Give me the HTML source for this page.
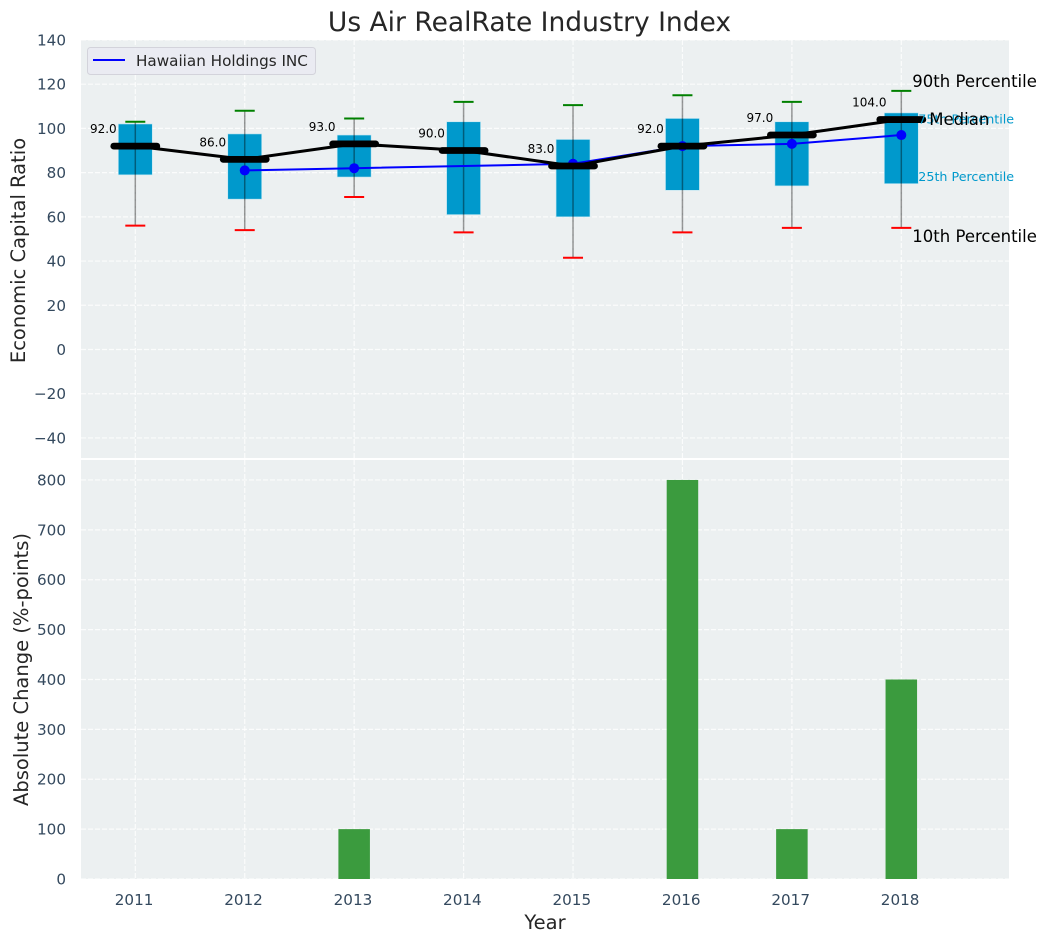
<!DOCTYPE html>
<html lang="en">
<head>
<meta charset="utf-8">
<title>Us Air RealRate Industry Index</title>
<style>
html,body{margin:0;padding:0;background:#fff;width:1047px;height:942px;overflow:hidden}
svg{display:block}
text{font-family:"DejaVu Sans","Liberation Sans",sans-serif}
</style>
</head>
<body>
<svg id="chart" width="1047" height="942" viewBox="0 0 1047 942" xmlns="http://www.w3.org/2000/svg">
  <rect x="81" y="40" width="928" height="418" fill="#ecf0f1"/>
  <rect x="81" y="460" width="928" height="419" fill="#ecf0f1"/>
  <g id="grid"></g>
  <g id="boxes"></g>
  <g id="series"></g>
  <g id="medians"></g>
  <g id="bars"></g>
  <g id="labels"></g>
  <g id="ticks"></g>
  <text x="529.5" y="31" text-anchor="middle" font-size="26.5" fill="#262626">Us Air RealRate Industry Index</text>
  <text transform="translate(24.8 250.5) rotate(-90)" text-anchor="middle" font-size="19.5" fill="#262626">Economic Capital Ratio</text>
  <text transform="translate(27.8 669.5) rotate(-90)" text-anchor="middle" font-size="19.5" fill="#262626">Absolute Change (%-points)</text>
  <text x="545" y="929" text-anchor="middle" font-size="19.5" fill="#262626">Year</text>
  <g>
    <rect x="87.5" y="47.5" width="228" height="27" rx="3" fill="#eaeaf2" fill-opacity="0.9" stroke="#d3d3db" stroke-width="1"/>
    <line x1="93" x2="125" y1="60" y2="60" stroke="#0000ff" stroke-width="2"/>
    <text x="136" y="66" font-size="15.2" fill="#262626">Hawaiian Holdings INC</text>
  </g>
</svg>
<script>
const years = [2011, 2012, 2013, 2014, 2015, 2016, 2017, 2018];
const p90 = [103, 108, 104.5, 112, 110.5, 115, 112, 117];
const p75 = [102, 97.5, 97, 103, 95, 104.5, 103, 107];
const p50 = [92, 86, 93, 90, 83, 92, 97, 104];
const p25 = [79, 68, 78, 61, 60, 72, 74, 75];
const p10 = [56, 54, 69, 53, 41.5, 53, 55, 55];
const company = [null, 81, 82, null, 84, 92, 93, 97];
const changes = [0, 0, 100, 0, 0, 800, 100, 400];
const topTicks = [-40, -20, 0, 20, 40, 60, 80, 100, 120, 140];
const bottomTicks = [0, 100, 200, 300, 400, 500, 600, 700, 800];

const NS = 'http://www.w3.org/2000/svg';
const xScale = v => 135.3 + (v - 2011) * 109.43;
const yTop = v => 349.5 - v * 2.211;
const yBottom = v => 879 - v * 0.4988;
const bandPx = 109.43;

function make(tag, parent, attrs, content) {
  const el = document.createElementNS(NS, tag);
  for (const k in attrs) el.setAttribute(k, attrs[k]);
  if (content !== undefined) el.textContent = content;
  document.getElementById(parent).appendChild(el);
  return el;
}
const fmtTick = v => (v < 0 ? '\u2212' + Math.abs(v) : String(v));
const gridStyle = {stroke: '#ffffff', 'stroke-width': 1.2, 'stroke-dasharray': '5 2', 'stroke-opacity': 0.8};

topTicks.forEach(t => {
  const y = yTop(t);
  const line = make('line', 'grid', Object.assign({x1: 81, x2: 1009, y1: y, y2: y}, gridStyle));
  
  
  const label = make('text', 'ticks', {x: 66, y: y + 5.5, 'text-anchor': 'end', 'font-size': 15.2, fill: '#34495e'}, fmtTick(t));
  
  
});
bottomTicks.forEach(t => {
  const y = yBottom(t);
  const line = make('line', 'grid', Object.assign({x1: 81, x2: 1009, y1: y, y2: y}, gridStyle));
  
  
  const label = make('text', 'ticks', {x: 66, y: y + 5.5, 'text-anchor': 'end', 'font-size': 15.2, fill: '#34495e'}, fmtTick(t));
  
  
});
years.forEach(yr => {
  const x = xScale(yr);
  const topLine = make('line', 'grid', Object.assign({x1: x, x2: x, y1: 40, y2: 458}, gridStyle));
  
  
  const bottomLine = make('line', 'grid', Object.assign({x1: x, x2: x, y1: 460, y2: 879}, gridStyle));
  
  
  const label = make('text', 'ticks', {x: x - 1.2, y: 905, 'text-anchor': 'middle', 'font-size': 15.2, fill: '#34495e'}, String(yr));
  
  
});

years.forEach((yr, i) => {
  const x = xScale(yr);
  const half = bandPx * 0.155;
  const box = make('rect', 'boxes', {x: x - half, y: yTop(p75[i]), width: half * 2, height: yTop(p25[i]) - yTop(p75[i]), fill: '#0099cc', stroke: '#bfe6f2', 'stroke-width': 0.6});
  
  
  const whisker = make('line', 'boxes', {x1: x, x2: x, y1: yTop(p90[i]), y2: yTop(p10[i]), stroke: '#000000', 'stroke-opacity': 0.4, 'stroke-width': 1.5});
  
  
  const capTop = make('line', 'boxes', {x1: x - 10, x2: x + 10, y1: yTop(p90[i]), y2: yTop(p90[i]), stroke: '#008000', 'stroke-width': 2});
  
  
  const capLow = make('line', 'boxes', {x1: x - 10, x2: x + 10, y1: yTop(p10[i]), y2: yTop(p10[i]), stroke: '#ff0000', 'stroke-width': 2});
  
  
});

const companyPts = years.map((yr, i) => company[i] === null ? null : xScale(yr) + ',' + yTop(company[i])).filter(Boolean).join(' ');
const companyLine = make('polyline', 'series', {points: companyPts, fill: 'none', stroke: '#0000ff', 'stroke-width': 2});


company.forEach((v, i) => {
  if (v === null) return;
  const dot = make('circle', 'series', {cx: xScale(years[i]), cy: yTop(v), r: 5, fill: '#0000ff'});
  
  
});

const medianPts = years.map((yr, i) => xScale(yr) + ',' + yTop(p50[i])).join(' ');
const medianLine = make('polyline', 'medians', {points: medianPts, fill: 'none', stroke: '#000000', 'stroke-width': 3});


p50.forEach((v, i) => {
  const x = xScale(years[i]);
  const dash = make('line', 'medians', {x1: x - 21.5, x2: x + 21.5, y1: yTop(v), y2: yTop(v), stroke: '#000000', 'stroke-width': 6.8, 'stroke-linecap': 'round'});
  
  
  const value = make('text', 'labels', {x: x - 32, y: yTop(v) - 13, 'text-anchor': 'middle', 'font-size': 12, fill: '#000000'}, v.toFixed(1));
  
  
});

changes.forEach((v, i) => {
  if (!v) return;
  const x = xScale(years[i]);
  const half = bandPx * 0.144;
  const bar = make('rect', 'bars', {x: x - half, y: yBottom(v), width: half * 2, height: yBottom(0) - yBottom(v), fill: '#3b9b3e'});
  
  
});

const last = years.length - 1;
const lastX = xScale(years[last]);
const p90Label = make('text', 'labels', {x: lastX + 11, y: yTop(p90[last]) - 3.6, 'font-size': 16.5, fill: '#000000'}, '90th Percentile');


const p75Label = make('text', 'labels', {x: lastX + 17, y: yTop(p75[last]) + 10.6, 'font-size': 12.7, fill: '#0099cc'}, '75th Percentile');


const p50Label = make('text', 'labels', {x: lastX + 28, y: yTop(p50[last]) + 5.6, 'font-size': 16.5, fill: '#000000'}, 'Median');


const p25Label = make('text', 'labels', {x: lastX + 17, y: yTop(p25[last]) - 2.6, 'font-size': 12.7, fill: '#0099cc'}, '25th Percentile');


const p10Label = make('text', 'labels', {x: lastX + 11, y: yTop(p10[last]) + 14, 'font-size': 16.5, fill: '#000000'}, '10th Percentile');


</script>
</body>
</html>
